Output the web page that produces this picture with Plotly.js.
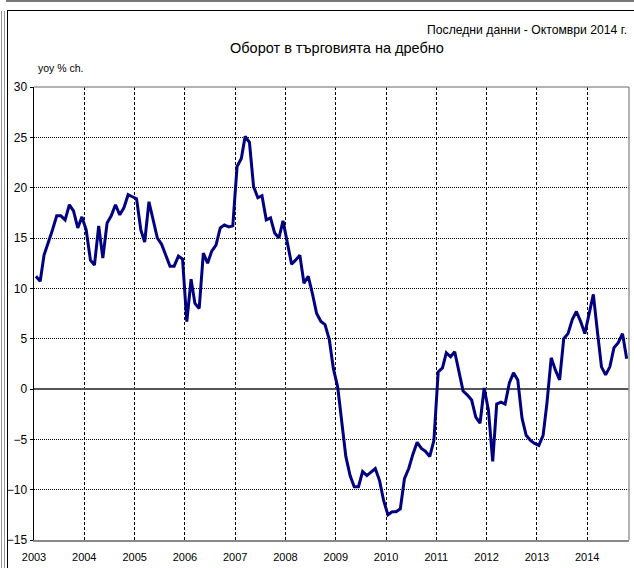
<!DOCTYPE html>
<html>
<head>
<meta charset="utf-8">
<script src="https://cdn.plot.ly/plotly-3.0.1.min.js"></script>
<style>
  html, body { margin: 0; padding: 0; background: #fff; }
  #wrap { position: relative; width: 634px; height: 568px; overflow: hidden; }
  #chart { position: absolute; left: 0; top: 0; width: 634px; height: 568px; }
  .deco { position: absolute; pointer-events: none; }
</style>
</head>
<body>
<div id="wrap">
  <div id="chart"></div>
  <div class="deco" style="left:6px;top:0;width:628px;height:2px;background:#777;"></div>
  <div class="deco" style="left:1px;top:11px;width:1px;height:557px;background:#999;"></div>
  <div class="deco" style="left:4px;top:11px;width:1px;height:557px;background:#999;"></div>
  <div class="deco" style="left:7px;top:10px;width:627px;height:1px;background:#000;"></div>
  <div class="deco" style="left:7px;top:10px;width:1px;height:558px;background:#000;"></div>
</div>
<script>
// ---- data ----
const startYear = 2003;
const startMonth = 1;
const yearTicks = ['2003','2004','2005','2006','2007','2008','2009','2010','2011','2012','2013','2014'];
const chartTitle = 'Оборот в търговията на дребно';
const subTitle = 'Последни данни - Октомври 2014 г.';
const yUnit = 'yoy % ch.';
// Retail trade turnover, yoy % change, Jan 2003 - Oct 2014
const retailYoY = [
  // 2003
  11.2, 10.7, 13.3, 14.5, 15.8, 17.2, 17.2, 16.8, 18.3, 17.7, 16.0, 17.1,
  // 2004
  15.8, 12.8, 12.3, 16.2, 13.0, 16.5, 17.2, 18.3, 17.3, 18.0, 19.3, 19.1,
  // 2005
  18.9, 15.8, 14.6, 18.6, 16.8, 15.0, 14.4, 13.3, 12.2, 12.2, 13.2, 12.9,
  // 2006
  6.7, 10.9, 8.5, 8.0, 13.5, 12.5, 13.7, 14.3, 16.0, 16.3, 16.1, 16.2,
  // 2007
  22.1, 22.9, 25.1, 24.5, 20.1, 19.0, 19.2, 16.8, 17.0, 15.5, 15.0, 16.7,
  // 2008
  14.5, 12.4, 12.8, 13.3, 10.5, 11.2, 9.5, 7.5, 6.7, 6.4, 4.9, 2.0,
  // 2009
  0.2, -3.4, -6.7, -8.6, -9.7, -9.7, -8.2, -8.6, -8.2, -7.9, -9.1, -11.1,
  // 2010
  -12.5, -12.2, -12.2, -11.9, -8.9, -7.9, -6.5, -5.3, -5.9, -6.2, -6.7, -5.1,
  // 2011
  1.7, 2.1, 3.6, 3.2, 3.7, 1.6, -0.2, -0.6, -1.1, -2.8, -3.4, 0.1,
  // 2012
  -2.1, -7.2, -1.5, -1.3, -1.5, 0.6, 1.6, 0.9, -2.9, -4.6, -5.1, -5.4,
  // 2013
  -5.6, -4.6, -1.4, 3.1, 1.9, 0.9, 5.0, 5.5, 6.9, 7.7, 6.7, 5.5,
  // 2014
  7.4, 9.4, 5.9, 2.2, 1.4, 2.2, 4.1, 4.6, 5.5, 3.0
];

// month dates (mid-month)
const months = retailYoY.map((v, i) => {
  const m0 = startMonth - 1 + i;
  const y = startYear + Math.floor(m0 / 12);
  const m = (m0 % 12) + 1;
  return y + '-' + String(m).padStart(2, '0') + '-15';
});
const tickVals = yearTicks.map(y => y + '-01-01');

const FONT = '"Liberation Sans", Arial, sans-serif';

const trace = {
  x: months,
  y: retailYoY,
  type: 'scatter',
  mode: 'lines',
  line: { color: '#000080', width: 3 },
  hoverinfo: 'x+y'
};

const layout = {
  width: 634,
  height: 568,
  margin: { l: 34, r: 5, t: 87, b: 28 },
  paper_bgcolor: 'rgba(0,0,0,0)',
  plot_bgcolor: '#fff',
  showlegend: false,
  font: { family: FONT, size: 12, color: '#000' },
  xaxis: {
    type: 'date',
    range: ['2003-01-01', '2014-11-01'],
    tickmode: 'array',
    tickvals: tickVals,
    ticktext: yearTicks,
    ticks: '',
    ticklabelstandoff: 6,
    showgrid: true,
    gridcolor: '#000',
    gridwidth: 1,
    griddash: '3px,2px',
    showline: true,
    linecolor: '#888',
    linewidth: 2,
    zeroline: false,
    tickfont: { family: FONT, size: 11, color: '#000' },
    fixedrange: true
  },
  yaxis: {
    range: [-15, 30],
    dtick: 5,
    tick0: -15,
    ticks: 'outside',
    ticklen: 3,
    tickcolor: '#000',
    showgrid: true,
    gridcolor: '#000',
    gridwidth: 1,
    griddash: '1px,1px',
    showline: true,
    linecolor: '#000',
    linewidth: 1.5,
    zeroline: true,
    zerolinecolor: '#555',
    zerolinewidth: 1.5,
    tickfont: { family: FONT, size: 12, color: '#000' },
    fixedrange: true
  },
  shapes: [
    { type: 'line', xref: 'paper', yref: 'paper', x0: 0, x1: 1, y0: 1, y1: 1,
      line: { color: '#999', width: 1.5 } },
    { type: 'line', xref: 'paper', yref: 'paper', x0: 1, x1: 1, y0: 0, y1: 1,
      line: { color: '#999', width: 1.5 } }
  ],
  annotations: [
    { text: subTitle, xref: 'paper', yref: 'paper', x: 1, y: 1, xanchor: 'right', yanchor: 'middle',
      xshift: 0, yshift: 57, showarrow: false, font: { family: FONT, size: 12.2, color: '#000' } },
    { text: chartTitle, xref: 'paper', yref: 'paper', x: 0.51, y: 1, xanchor: 'center', yanchor: 'middle',
      yshift: 39, showarrow: false, font: { family: FONT, size: 14.5, color: '#000' } },
    { text: yUnit, xref: 'paper', yref: 'paper', x: 0, y: 1, xanchor: 'left', yanchor: 'middle',
      xshift: 2, yshift: 19, showarrow: false, font: { family: FONT, size: 10.5, color: '#000' } }
  ]
};

Plotly.newPlot('chart', [trace], layout, { displayModeBar: false, staticPlot: true });
</script>
</body>
</html>
